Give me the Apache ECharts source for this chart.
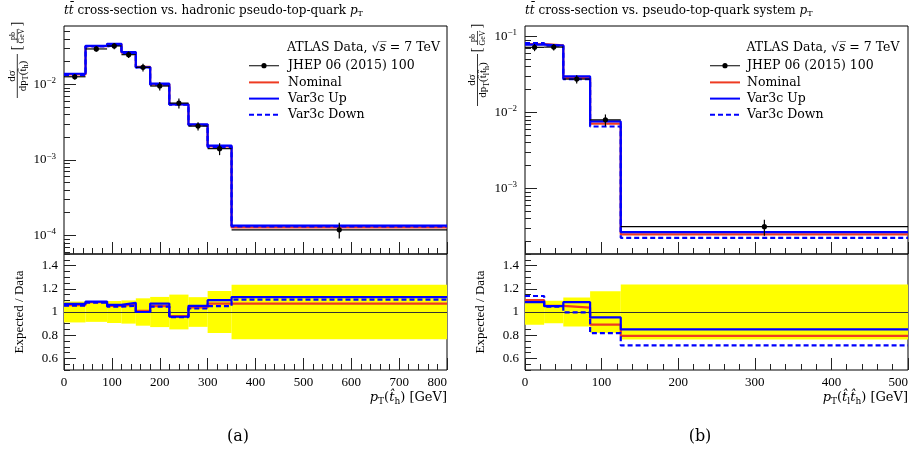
<!DOCTYPE html>
<html><head><meta charset="utf-8">
<script src="https://cdn.jsdelivr.net/npm/echarts@6/dist/echarts.min.js"></script>
<style>html,body{margin:0;padding:0;background:#fff}#c{width:918px;height:455px}</style>
</head><body><div id="c"></div>
<script>
// ---------- Panel (a): hadronic pseudo-top-quark pT ----------
const edgesA = [0, 45, 90, 120, 150, 180, 220, 260, 300, 350, 800];
const dataA = [0.0126, 0.0294, 0.0322, 0.0247, 0.0168, 0.0095, 0.00565, 0.0028, 0.00141, 0.000119];
const dataErrA = [0.09, 0.085, 0.095, 0.10, 0.118, 0.13, 0.15, 0.128, 0.18, 0.235];
const nominalA = [0.0135, 0.0319, 0.0340, 0.0263, 0.0170, 0.0100, 0.00545, 0.00292, 0.00151, 0.000128];
const upA = [0.0138, 0.0323, 0.0344, 0.0267, 0.0168, 0.0102, 0.00542, 0.00296, 0.00155, 0.000135];
const downA = [0.0133, 0.0318, 0.0337, 0.0260, 0.0168, 0.0099, 0.00540, 0.00289, 0.00148, 0.000132];
const ratioNominalA = [1.06, 1.085, 1.053, 1.066, 1.01, 1.05, 0.965, 1.04, 1.073, 1.073];
const ratioUpA = [1.07, 1.09, 1.062, 1.079, 1.0, 1.073, 0.959, 1.053, 1.102, 1.129];
const ratioDownA = [1.055, 1.08, 1.047, 1.053, 1.0, 1.047, 0.955, 1.03, 1.05, 1.106];

// ---------- Panel (b): pseudo-top-quark system pT ----------
const edgesB = [0, 25, 50, 85, 125, 500];
const dataB = [0.072, 0.0725, 0.0275, 0.0080, 0.000314];
const dataErrB = [0.11, 0.097, 0.125, 0.178, 0.237];
const nominalB = [0.0793, 0.0763, 0.0285, 0.00713, 0.000249];
const upB = [0.0781, 0.0761, 0.0298, 0.00762, 0.000267];
const downB = [0.0819, 0.0758, 0.0274, 0.00654, 0.000224];
const ratioNominalB = [1.102, 1.052, 1.038, 0.891, 0.794];
const ratioUpB = [1.085, 1.05, 1.085, 0.953, 0.85];
const ratioDownB = [1.138, 1.046, 0.997, 0.818, 0.712];

// ---------- tick labels ----------
const logTicksA = [-4, -3, -2];
const logTicksB = [-3, -2, -1];
const ratioTicks = [0.6, 0.8, 1, 1.2, 1.4];
const ratioMinorTicks = [0.5, 0.55, 0.65, 0.7, 0.75, 0.85, 0.9, 0.95, 1.05, 1.1, 1.15, 1.25, 1.3, 1.35, 1.45, 1.5];

const F = "'Liberation Serif', 'DejaVu Serif', serif";
const FD = "'DejaVu Serif', serif";
const RED = '#ee3b22', BLUE = '#0000ff';
const L10 = v => Math.log10(v);

function minorLog(lo, hi) {
  const out = [];
  for (let n = Math.floor(lo); n <= Math.ceil(hi); n++)
    for (let k = 2; k <= 9; k++) { const v = n + Math.log10(k); if (v > lo && v < hi) out.push(v); }
  return out;
}
function stepData(edges, vals, tf) {
  return edges.map((e, i) => [e, tf(vals[Math.min(i, vals.length - 1)])]);
}
function richC(size) {
  const sm = Math.round(size * 0.7);
  return {
    i: {fontStyle: 'italic', fontSize: size},
    n: {fontSize: size},
    sub: {fontSize: sm, padding: [7, 0, 0, 0]},
    b: {fontSize: size},
    s: {fontSize: 9, padding: [0, 0, 7, 0]}
  };
}
function richG(size, fam) {
  const sm = Math.round(size * 0.72);
  const f = fam || F;
  return {
    n: {fontFamily: f, fontSize: size, fill: '#000'},
    i: {fontFamily: f, fontSize: size, fontStyle: 'italic', fill: '#000'},
    sub: {fontFamily: f, fontSize: sm, fill: '#000', padding: [Math.round(size * 0.5), 0, 0, 0]}
  };
}

const tickColor = '#222';
function xAx(grid, max, showLabel, name) {
  return {
    type: 'value', gridIndex: grid, min: 0, max: max, interval: 100,
    axisLine: {show: false}, splitLine: {show: false}, minorSplitLine: {show: false},
    axisTick: {inside: true, length: 12, lineStyle: {color: tickColor}},
    minorTick: {show: true, splitNumber: 5, length: 6, lineStyle: {color: tickColor}},
    axisLabel: {show: showLabel, margin: 6, fontFamily: F, fontSize: 13, color: '#000', alignMaxLabel: 'right'},
    name: name || '', nameLocation: 'end', nameGap: 0, nameMoveOverlap: false,
    nameTextStyle: {fontFamily: FD, fontSize: 13, color: '#000', align: 'right', verticalAlign: 'top', padding: [20, 0, 0, 0], rich: richC(13)}
  };
}
function yMajor(grid, min, max, ticks, fmt, margin, name) {
  return {
    type: 'value', gridIndex: grid, min: min, max: max, position: 'left',
    axisLine: {show: false}, splitLine: {show: false},
    axisTick: {inside: true, length: 12, customValues: ticks, lineStyle: {color: tickColor}},
    axisLabel: {customValues: ticks, formatter: fmt, margin: margin, fontFamily: F, fontSize: 13, color: '#000', rich: richC(13)},
    name: name || '', nameLocation: 'middle', nameGap: 38, nameRotate: 90, nameMoveOverlap: false,
    nameTextStyle: {fontFamily: F, fontSize: 13, color: '#000'}
  };
}
function yMinor(grid, min, max, ticks) {
  return {
    type: 'value', gridIndex: grid, min: min, max: max, position: 'left',
    axisLine: {show: false}, splitLine: {show: false},
    axisTick: {inside: true, length: 6, customValues: ticks, lineStyle: {color: tickColor}},
    axisLabel: {show: false}
  };
}
const logFmt = v => '{b|10}{s|\u2212' + Math.round(-v) + '}';
const ratioFmt = v => String(+(+v).toFixed(1));

const rangeA = [-4.245, -1.228];
const rangeB = [-3.862, -0.862];

function bandRender(params, api) {
  const p0 = api.coord([api.value(0), api.value(3)]);
  const p1 = api.coord([api.value(1), api.value(2)]);
  return {type: 'rect', shape: {x: p0[0], y: p0[1], width: p1[0] - p0[0], height: p1[1] - p0[1]}, style: {fill: '#ffff00'}};
}
function dataRender(params, api) {
  const c = api.coord([api.value(0), api.value(1)]);
  const l = api.coord([api.value(4), api.value(1)]);
  const r = api.coord([api.value(5), api.value(1)]);
  const lo = api.coord([api.value(0), api.value(2)]);
  const hi = api.coord([api.value(0), api.value(3)]);
  return {type: 'group', children: [
    {type: 'line', shape: {x1: l[0], y1: l[1], x2: r[0], y2: r[1]}, style: {stroke: '#000', lineWidth: 1.2}},
    {type: 'line', shape: {x1: lo[0], y1: lo[1], x2: hi[0], y2: hi[1]}, style: {stroke: '#000', lineWidth: 1.2}},
    {type: 'circle', shape: {cx: c[0], cy: c[1], r: 2.6}, style: {fill: '#000'}}
  ]};
}
function line(name, xi, yi, data, color, dashed) {
  return {
    type: 'line', name: name, xAxisIndex: xi, yAxisIndex: yi, step: 'end', symbol: 'none', z: 3,
    lineStyle: {color: color, width: 2.2, type: dashed ? [5, 3] : 'solid'}, itemStyle: {color: color},
    data: data, animation: false
  };
}
function panelSeries(edges, data, err, nom, up, down, rNom, rUp, rDown, xt, yt, xb, yb) {
  const id = v => v;
  return [
    {
      type: 'custom', name: 'Data uncertainty', xAxisIndex: xb, yAxisIndex: yb, z: 1,
      renderItem: bandRender, encode: {x: [0, 1], y: [2, 3]},
      data: err.map((e, i) => [edges[i], edges[i + 1], 1 - e, 1 + e]),
      markLine: {silent: true, symbol: 'none', z: 2, label: {show: false}, animation: false,
        lineStyle: {color: '#333', width: 1, type: 'solid'}, data: [{yAxis: 1}]}
    },
    line('Nominal', xb, yb, stepData(edges, rNom, id), RED, false),
    line('Var3c Down', xb, yb, stepData(edges, rDown, id), BLUE, true),
    line('Var3c Up', xb, yb, stepData(edges, rUp, id), BLUE, false),
    line('Nominal', xt, yt, stepData(edges, nom, L10), RED, false),
    line('Var3c Down', xt, yt, stepData(edges, down, L10), BLUE, true),
    line('Var3c Up', xt, yt, stepData(edges, up, L10), BLUE, false),
    {
      type: 'custom', name: 'JHEP 06 (2015) 100', xAxisIndex: xt, yAxisIndex: yt, z: 4,
      renderItem: dataRender, encode: {x: 0, y: 1}, itemStyle: {color: '#000'},
      data: data.map((v, i) => [(edges[i] + edges[i + 1]) / 2, L10(v), L10(v * (1 - err[i])), L10(v * (1 + err[i])), edges[i], edges[i + 1]])
    }
  ];
}

const jhepIcon = 'path://M0,0L0,0M0,6.5L30,6.5L30,7.5L0,7.5ZM17.6,7A2.6,2.6,0,1,1,12.4,7A2.6,2.6,0,1,1,17.6,7ZM30,14L30,14';
const hideSym = {color: 'rgba(0,0,0,0)', borderWidth: 0, opacity: 0};
function legend(left, pad) {
  return {
    left: left, top: 58.7, orient: 'vertical', padding: 0, itemWidth: 30, itemHeight: 14, itemGap: 3.2,
    selectedMode: false,
    data: [
      {name: 'JHEP 06 (2015) 100', icon: jhepIcon},
      {name: 'Nominal', itemStyle: hideSym},
      {name: 'Var3c Up', itemStyle: hideSym},
      {name: 'Var3c Down', itemStyle: hideSym}
    ],
    textStyle: {fontFamily: FD, fontSize: 12.5, color: '#000', padding: [0, 0, 0, pad]}
  };
}
function yTitle(x, y, denom, halfBar, brX) {
  const g = richG(11);
  return {
    type: 'group', x: x, y: y, rotation: Math.PI / 2, silent: true,
    children: [
      {type: 'text', x: 0, y: -5.5, style: {text: 'd\u03c3', fontFamily: F, fontSize: 11, fill: '#000', align: 'center', verticalAlign: 'middle'}},
      {type: 'line', shape: {x1: -halfBar, y1: 0, x2: halfBar, y2: 0}, style: {stroke: '#000', lineWidth: 0.8}},
      {type: 'text', x: 0, y: 6, style: {text: denom, rich: g, align: 'center', verticalAlign: 'middle'}},
      {type: 'text', x: brX - 12, y: 0, style: {text: '[', fontFamily: F, fontSize: 14, fill: '#000', align: 'center', verticalAlign: 'middle'}},
      {type: 'text', x: brX + 12, y: 0, style: {text: ']', fontFamily: F, fontSize: 14, fill: '#000', align: 'center', verticalAlign: 'middle'}},
      {type: 'text', x: brX, y: -4.5, style: {text: 'pb', fontFamily: F, fontSize: 8, fill: '#000', align: 'center', verticalAlign: 'middle'}},
      {type: 'line', shape: {x1: brX - 7, y1: 0, x2: brX + 7, y2: 0}, style: {stroke: '#000', lineWidth: 0.7}},
      {type: 'text', x: brX, y: 5, style: {text: 'GeV', fontFamily: F, fontSize: 8, fill: '#000', align: 'center', verticalAlign: 'middle'}}
    ]
  };
}
function header(x) {
  return {type: 'text', x: x, y: 48, silent: true,
    style: {text: '{n|ATLAS Data, \u221a}{i|s\u0305}{n| = 7 TeV}', rich: richG(12.5, FD), align: 'left', verticalAlign: 'middle'}};
}
const titleStyle = {fontFamily: FD, fontSize: 12, fontWeight: 'normal', color: '#000', rich: richC(12)};

const option = {
  animation: false,
  backgroundColor: '#fff',
  title: [
    {text: '{i|t}{i|t\u0304}{n| cross-section vs. hadronic pseudo-top-quark }{i|p}{sub|T}', left: 64, top: 3, padding: 0, textStyle: titleStyle},
    {text: '{i|t}{i|t\u0304}{n| cross-section vs. pseudo-top-quark system }{i|p}{sub|T}', left: 525, top: 3, padding: 0, textStyle: titleStyle}
  ],
  legend: [legend(248, 4), legend(709, 2)],
  grid: [
    {left: 64, top: 26, width: 383, height: 228, show: true, borderColor: '#000', borderWidth: 1, backgroundColor: 'transparent', containLabel: false, outerBoundsMode: 'none'},
    {left: 64, top: 254, width: 383, height: 116, show: true, borderColor: '#000', borderWidth: 1, backgroundColor: 'transparent', containLabel: false, outerBoundsMode: 'none'},
    {left: 525, top: 26, width: 383, height: 228, show: true, borderColor: '#000', borderWidth: 1, backgroundColor: 'transparent', containLabel: false, outerBoundsMode: 'none'},
    {left: 525, top: 254, width: 383, height: 116, show: true, borderColor: '#000', borderWidth: 1, backgroundColor: 'transparent', containLabel: false, outerBoundsMode: 'none'}
  ],
  xAxis: [
    xAx(0, 800, false),
    xAx(1, 800, true, '{i|p}{sub|T}{n|(}{i|t\u0302}{sub|h}{n|) [GeV]}'),
    xAx(2, 500, false),
    xAx(3, 500, true, '{i|p}{sub|T}{n|(}{i|t\u0302}{sub|l}{i|t\u0302}{sub|h}{n|) [GeV]}')
  ],
  yAxis: [
    yMajor(0, rangeA[0], rangeA[1], logTicksA, logFmt, 8),
    yMinor(0, rangeA[0], rangeA[1], minorLog(rangeA[0], rangeA[1])),
    yMajor(1, 0.5, 1.5, ratioTicks, ratioFmt, 6, 'Expected / Data'),
    yMinor(1, 0.5, 1.5, ratioMinorTicks),
    yMajor(2, rangeB[0], rangeB[1], logTicksB, logFmt, 8),
    yMinor(2, rangeB[0], rangeB[1], minorLog(rangeB[0], rangeB[1])),
    yMajor(3, 0.5, 1.5, ratioTicks, ratioFmt, 6, 'Expected / Data'),
    yMinor(3, 0.5, 1.5, ratioMinorTicks)
  ],
  series: [].concat(
    panelSeries(edgesA, dataA, dataErrA, nominalA, upA, downA, ratioNominalA, ratioUpA, ratioDownA, 0, 0, 1, 2),
    panelSeries(edgesB, dataB, dataErrB, nominalB, upB, downB, ratioNominalB, ratioUpB, ratioDownB, 2, 4, 3, 6)
  ),
  graphic: [
    yTitle(17.3, 76, '{n|dp}{sub|T}{n|(t\u0302}{sub|h}{n|)}', 22, 40),
    yTitle(477.5, 80, '{n|dp}{sub|T}{n|(t\u0302}{sub|l}{n|t\u0302}{sub|h}{n|)}', 26, 42),
    header(287),
    header(746.5),
    {type: 'text', x: 238, y: 437, silent: true, style: {text: '(a)', fontFamily: FD, fontSize: 16, fill: '#000', align: 'center', verticalAlign: 'middle'}},
    {type: 'text', x: 700, y: 437, silent: true, style: {text: '(b)', fontFamily: FD, fontSize: 16, fill: '#000', align: 'center', verticalAlign: 'middle'}}
  ]
};
const chart = echarts.init(document.getElementById('c'), null, {renderer: 'canvas'});
chart.setOption(option);
</script>
</body></html>
